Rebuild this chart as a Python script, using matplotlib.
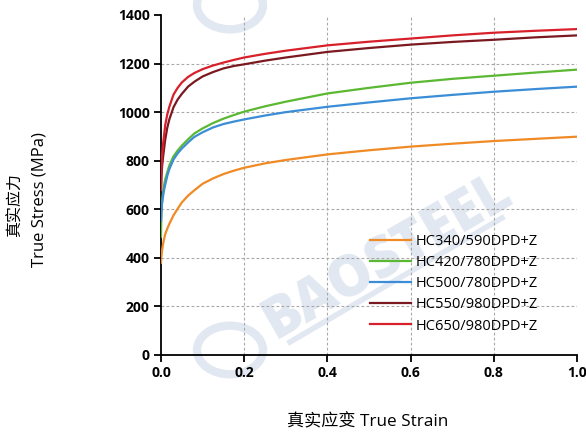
import matplotlib
matplotlib.use("Agg")
import matplotlib.pyplot as plt
from matplotlib.patches import Circle

strain = [0, 0.001, 0.0025, 0.005, 0.0075, 0.01, 0.015, 0.02, 0.03, 0.04,
          0.05, 0.065, 0.08, 0.1, 0.125, 0.15, 0.175, 0.2, 0.25, 0.3,
          0.4, 0.5, 0.6, 0.7, 0.8, 0.9, 1.0]

hc340 = [380, 405, 430, 458, 478, 497, 520, 540, 575, 602,
         628, 656, 678, 705, 727, 745, 759, 771, 789, 803,
         826, 843, 858, 870, 881, 890, 899]
hc420 = [487, 580, 630, 670, 700, 722, 752, 780, 818, 842,
         862, 888, 912, 933, 955, 973, 988, 1002, 1024, 1043,
         1077, 1100, 1121, 1137, 1150, 1163, 1175]
hc500 = [552, 590, 625, 655, 680, 700, 737, 765, 805, 830,
         850, 875, 898, 917, 937, 951, 961, 970, 986, 1000,
         1022, 1040, 1057, 1071, 1084, 1095, 1105]
hc550 = [679, 730, 775, 815, 850, 885, 935, 970, 1020, 1052,
         1075, 1105, 1125, 1147, 1165, 1180, 1190, 1197, 1212, 1225,
         1248, 1264, 1278, 1289, 1298, 1308, 1316]
hc650 = [679, 760, 820, 870, 905, 945, 990, 1022, 1072, 1100,
         1122, 1145, 1161, 1177, 1192, 1204, 1215, 1225, 1240, 1253,
         1275, 1290, 1303, 1316, 1327, 1335, 1342]

labels = ["HC340/590DPD+Z", "HC420/780DPD+Z", "HC500/780DPD+Z",
          "HC550/980DPD+Z", "HC650/980DPD+Z"]
series = [hc340, hc420, hc500, hc550, hc650]
colors = ["#f08a24", "#5bb832", "#3a8dd6", "#7a1a20", "#d8202a"]

xticks = [0.0, 0.2, 0.4, 0.6, 0.8, 1.0]
yticks = [0, 200, 400, 600, 800, 1000, 1200, 1400]

plt.rcParams['font.family'] = ['Open Sans', 'Noto Sans CJK SC', 'DejaVu Sans']

fig = plt.figure(figsize=(5.86, 4.32), dpi=100)
ax = fig.add_axes([161/586, 1-355/432, (577-161)/586, (355-15)/432])
ax.set_zorder(2)

# watermark (behind everything)
wm = '#e2e8f1'
fig.text(388/586, 1-258/432, "BAOSTEEL", fontsize=40, fontweight='heavy', color=wm,
         rotation=30, ha='center', va='center', zorder=-1)
for cx, cy in [(230, 350), (230, 5)]:
    fig.patches.append(Circle((cx/586, 1-cy/432), 33/586, transform=fig.transFigure,
                              fill=False, lw=6, ec=wm, zorder=-1))
fig.lines.append(plt.Line2D([290/586, 502/586], [1-342/432, 1-218/432],
                            transform=fig.transFigure, color=wm, lw=4, zorder=-1))

for vals, lab, col in zip(series, labels, colors):
    ax.plot(strain, vals, color=col, lw=1.6, label=lab, zorder=3)

ax.set_xlim(0, 1.0)
ax.set_ylim(0, 1400)
ax.set_xticks(xticks)
ax.set_yticks(yticks)
ax.set_xticklabels([f"{t:.1f}" for t in xticks])
ax.set_yticklabels([str(t) for t in yticks])
for lab in ax.get_xticklabels() + ax.get_yticklabels():
    lab.set_fontweight('bold')
    lab.set_fontsize(10)
ax.tick_params(direction='out', length=5, width=1.3, color='black', pad=3)

for s in ['top', 'right']:
    ax.spines[s].set_visible(False)
for s in ['left', 'bottom']:
    ax.spines[s].set_linewidth(1.3)
    ax.spines[s].set_color('black')

ax.grid(True, color='#a8a8a8', linestyle=(0, (2.5, 2)), linewidth=0.8)
ax.yaxis.get_gridlines()[-1].set_visible(False)
ax.yaxis.get_gridlines()[0].set_visible(False)
ax.xaxis.get_gridlines()[0].set_visible(False)
ax.xaxis.get_gridlines()[-1].set_visible(False)
ax.set_axisbelow(True)
ax.patch.set_alpha(0)

leg = ax.legend(loc='upper left', bbox_to_anchor=((370-161)/416, (355-234)/340),
                frameon=False, fontsize=10.5, handlelength=2.8, handletextpad=0.3,
                labelspacing=0.42, borderaxespad=0, borderpad=0)

fig.text(16/586, 1-205/432, "真实应力", rotation=90, ha='center', va='center', fontsize=11.5)
fig.text(40/586, 1-200/432, "True Stress (MPa)", rotation=90, ha='center', va='center', fontsize=12)
fig.text(368/586, 1-422/432, "真实应变 True Strain", ha='center', va='center', fontsize=12.3)

fig.savefig("out.png", dpi=100)
